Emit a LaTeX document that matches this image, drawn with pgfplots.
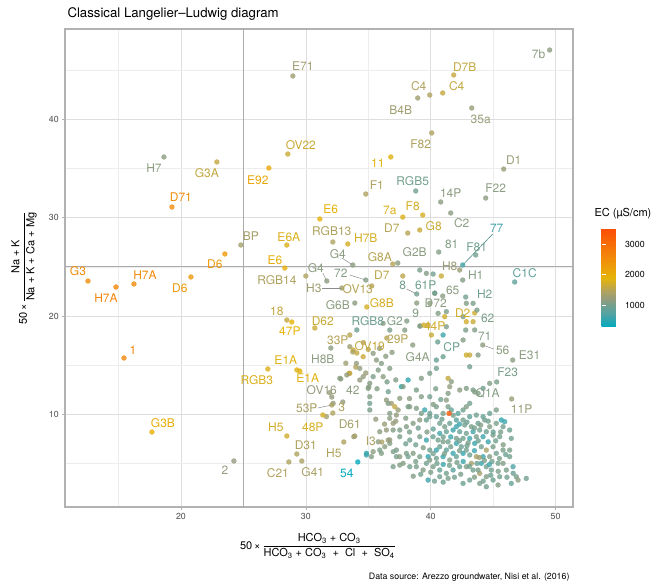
\documentclass[border=0pt]{standalone}
\usepackage{fontspec}
\setmainfont{TeX Gyre Heros}
\usepackage{pgfplots}
\pgfplotsset{compat=1.18}
\usepackage{pgfplotstable}
\usetikzlibrary{calc}

\pgfplotsset{colormap={ecmap}{rgb255(0pt)=(0,170,190); rgb255(42pt)=(80,163,165); rgb255(72pt)=(115,160,142); rgb255(92pt)=(148,156,125); rgb255(117pt)=(175,162,95); rgb255(142pt)=(208,172,45); rgb255(162pt)=(230,180,8); rgb255(232pt)=(243,135,10); rgb255(322pt)=(252,78,7)}}

% labelled samples: point (px,py), label position (lx,ly), EC
\pgfplotstableread{
px py lx ly ec lbl
28.96 44.42 29.76 45.43 1300 E71
28.56 36.48 29.60 37.40 1650 OV22
18.64 36.18 17.84 35.06 1150 H7
22.88 35.67 22.08 34.55 1600 G3A
27.04 35.06 26.16 33.84 2100 E92
19.28 31.09 20.00 32.11 2500 D71
24.80 27.22 25.60 28.14 1350 BP
28.48 27.22 28.64 28.04 1800 E6A
23.52 26.31 22.72 25.29 2300 D6
28.32 24.88 27.52 25.70 2000 E6
31.12 29.87 32.00 30.89 1950 E6
12.56 23.56 11.76 24.58 2500 G3
14.80 22.95 14.00 21.83 2650 H7A
16.24 23.26 17.12 24.17 2550 H7A
20.80 23.97 19.92 22.85 2300 D6
30.00 24.07 27.68 23.66 1450 RGB14
31.68 23.56 30.80 24.88 1150 G4
33.76 25.19 32.56 26.31 1150 G4
34.80 23.66 32.80 24.37 1100 72
32.88 22.85 30.64 22.85 1300 H3
35.28 23.05 34.16 22.75 1500 OV13
37.76 24.07 36.08 24.17 1550 D7
33.92 21.32 32.56 21.12 1150 G6B
34.88 20.92 36.08 21.32 1750 G8B
28.48 19.59 27.68 20.51 1600 18
28.88 19.39 28.72 18.47 1900 47P
30.72 18.78 31.36 19.49 1650 D62
34.08 18.58 34.96 19.49 950 RGB8
38.08 19.49 37.12 19.49 1100 G2
39.12 18.98 38.80 20.31 1100 9
39.44 19.08 40.32 18.98 1700 44P
38.88 21.32 40.40 21.32 1150 D72
38.88 22.24 37.76 23.15 1000 8
40.32 22.34 39.60 23.15 1000 61P
40.96 22.03 41.76 22.64 1150 65
42.56 23.66 43.60 24.17 1100 H1
46.72 23.46 47.52 24.37 850 C1C
42.80 21.93 44.32 22.24 1000 H2
43.52 20.31 42.56 20.31 1700 D2
43.70 20.60 44.56 19.80 1050 62
43.52 18.58 44.32 17.97 1100 71
44.16 17.05 45.76 16.54 1150 56
46.56 15.52 47.92 16.03 1150 E31
45.28 13.29 46.16 14.30 1050 F23
40.56 17.36 41.68 16.85 950 CP
38.56 17.05 38.96 15.83 1150 G4A
36.48 17.76 37.36 17.66 1500 29P
34.08 16.24 35.12 16.95 1600 OV19
33.52 18.07 32.56 17.56 1500 33P
32.00 16.74 31.36 15.63 1150 H8B
29.28 14.51 28.40 15.52 1850 E1A
29.52 14.40 30.16 13.69 1850 E1A
26.96 14.61 26.08 13.49 1800 RGB3
32.08 11.76 31.28 12.47 1200 OV16
35.04 12.78 33.76 12.47 1150 42
32.08 10.95 30.08 10.64 1400 53P
32.16 10.13 32.88 10.74 1450 3
28.48 7.79 27.60 8.71 1700 H5
31.36 9.93 30.56 8.71 1750 48P
33.92 7.79 33.52 9.01 1350 D61
29.28 5.96 30.00 6.88 1450 D31
33.04 7.18 32.24 6.06 1450 H5
28.64 5.15 27.76 4.03 1450 C21
29.68 5.25 30.56 4.13 1400 G41
24.24 5.25 23.52 4.33 1200 2
34.16 5.15 33.28 4.03 300 54
17.68 8.20 18.56 9.11 2000 G3B
15.44 15.73 16.16 16.54 2600 1
36.08 7.18 35.20 7.28 1400 I3
43.52 12.27 44.56 12.17 1100 Q1A
46.48 11.56 47.28 10.54 1250 11P
41.84 44.52 42.72 45.33 1600 D7B
39.92 42.48 39.04 43.40 1450 C4
40.96 42.69 42.08 43.40 1600 C4
38.96 42.18 37.60 40.96 1300 B4B
49.52 47.06 48.64 46.65 1150 7b
43.28 41.16 44.00 40.04 1250 35a
40.08 38.62 39.20 37.50 1450 F82
36.80 36.18 35.76 35.57 1850 11
45.84 34.95 46.64 35.87 1250 D1
34.80 32.41 35.68 33.33 1450 F1
38.80 32.72 38.56 33.73 1000 RGB5
40.80 31.60 41.60 32.51 1150 14P
44.40 32.00 45.20 33.02 1150 F22
37.76 30.07 36.72 30.78 1800 7a
39.36 30.27 38.56 31.19 1750 F8
41.60 30.48 42.48 29.46 1150 C2
38.16 28.44 36.88 28.95 1500 D7
39.12 28.75 40.24 29.16 1650 G8
42.56 25.19 45.28 28.95 650 77
43.60 26.21 43.68 27.02 1000 F81
40.64 26.51 41.68 27.32 1100 81
42.32 24.68 41.52 25.09 1250 H8
32.16 27.53 32.08 28.65 1450 RGB13
33.36 27.33 34.80 27.93 1750 H7B
36.96 25.29 35.92 26.00 1500 G8A
37.36 25.39 38.72 26.51 1150 G2B
}\lab

% unlabelled samples
\pgfplotstableread{
x y ec
39.12 24.68 1050
39.65 24.34 1100
40.19 24.27 1000
40.85 24.07 1650
40.32 22.30 1100
39.92 21.29 1150
40.59 20.27 1100
41.25 20.44 1050
41.12 19.93 1700
42.85 21.29 1100
43.39 21.29 1050
42.59 19.93 1100
42.85 19.42 1700
43.39 19.42 1650
42.80 18.57 1050
41.25 18.91 1100
40.99 18.07 600
40.05 18.07 1650
39.17 18.98 1100
39.79 19.08 1650
37.92 18.57 1100
36.72 18.57 1050
36.19 19.25 1150
33.52 16.88 1300
34.59 15.86 1650
35.39 16.20 1150
35.65 15.52 1150
36.05 15.18 1100
36.72 14.67 1100
33.79 16.54 1650
34.05 15.18 1200
34.32 14.67 1150
33.52 14.17 1500
34.59 13.83 1200
35.12 13.15 1100
35.39 13.83 1050
36.19 13.83 1150
40.45 15.52 900
40.45 14.67 1000
40.99 15.86 950
42.59 17.56 1100
42.85 16.03 1700
43.12 16.03 1650
43.79 16.03 1100
43.12 14.84 1000
37.65 12.81 500
38.19 13.49 550
39.25 13.66 1100
39.92 14.17 1050
38.85 12.47 1050
39.25 11.79 1100
39.92 11.79 1000
35.12 11.79 1100
35.12 11.11 1000
35.12 10.44 1050
36.45 11.45 1200
36.85 11.11 1300
37.12 10.77 1600
37.39 10.44 1250
36.72 10.09 1100
37.25 9.92 1200
38.32 10.77 1150
38.85 10.61 1100
39.52 10.44 600
39.92 10.09 950
40.45 10.77 1050
41.39 13.66 1600
41.65 13.32 1150
41.52 12.81 1200
41.39 12.13 1100
41.25 11.45 1150
41.39 10.77 1050
41.65 10.44 900
42.19 10.09 800
42.59 10.44 1000
42.85 10.77 1100
43.12 11.11 1000
42.32 12.47 1150
42.85 12.64 1100
43.39 12.47 1050
43.79 12.13 1100
44.19 12.64 1000
44.72 13.15 1100
45.25 10.44 1050
45.65 9.42 550
45.92 9.25 600
46.45 7.55 1000
44.72 10.09 950
44.19 9.76 900
43.65 9.92 1000
43.12 9.76 850
42.59 9.42 1000
42.05 9.42 800
40.99 10.09 1050
40.45 9.76 900
39.92 9.76 1000
39.65 9.42 950
39.12 9.42 1150
38.59 9.08 1100
38.05 8.74 1100
37.52 8.40 1050
36.99 8.40 1100
36.45 8.40 1200
35.92 8.23 1150
36.59 7.38 1300
36.72 7.04 1100
35.92 6.36 1050
36.32 6.70 1150
37.52 7.72 1050
38.32 7.38 1000
39.12 7.72 1050
39.65 7.38 600
40.19 7.72 950
40.72 8.06 650
41.25 8.23 900
41.79 8.40 600
42.32 8.23 900
42.85 8.06 1000
43.39 8.23 650
43.92 8.40 1000
44.45 8.23 950
44.99 7.89 1050
45.52 7.72 1000
39.92 6.36 1000
40.45 6.36 600
40.72 6.70 950
41.25 6.36 850
41.79 6.03 600
42.05 5.69 900
42.59 6.03 550
43.12 5.86 950
43.65 5.69 1400
44.19 5.69 600
44.72 5.69 1100
45.25 6.03 1000
45.79 6.36 1050
46.32 5.69 1000
46.59 4.67 700
46.05 4.33 1050
45.52 3.65 1000
44.99 3.31 950
44.45 3.65 1100
43.92 3.99 1350
43.39 4.33 1000
42.85 4.67 1100
42.32 4.67 950
41.79 4.33 800
41.25 3.99 1000
40.72 4.33 900
40.19 4.67 1050
39.65 5.01 1000
39.12 5.69 1050
38.59 6.03 1100
38.05 6.03 1050
37.52 5.69 1150
37.25 6.36 1050
37.79 5.01 1100
38.32 4.67 1000
38.85 4.67 1050
39.39 4.33 1100
40.72 3.65 1000
41.39 3.48 1050
42.59 2.97 950
43.12 3.31 1000
43.92 2.97 1050
44.45 2.63 1000
45.39 2.81 1100
46.45 2.97 900
46.85 3.65 1050
47.65 3.48 1000
46.99 3.31 1150
39.79 3.31 600
39.79 5.69 550
34.85 6.03 500
35.25 5.69 1100
36.72 9.59 1150
36.99 9.08 1250
36.59 11.11 1100
38.19 10.77 1050
37.52 11.62 1150
37.79 12.81 1100
39.25 10.09 1050
40.72 9.08 1000
41.12 8.74 1050
41.52 9.08 950
42.05 8.74 600
42.72 8.91 1000
43.25 8.74 1050
43.79 9.08 950
44.32 9.42 1000
44.72 8.74 1100
45.25 9.08 1050
45.79 8.74 1000
46.32 8.40 950
43.52 7.04 600
44.05 6.70 1000
44.45 6.36 1400
44.99 6.70 1050
44.05 5.01 600
44.45 4.67 1000
43.79 4.33 1050
43.25 5.01 1350
42.85 6.36 1000
42.45 6.70 950
42.05 7.04 600
41.39 7.21 1000
40.99 7.21 1050
40.59 7.38 1000
41.52 5.35 1100
40.99 5.69 600
40.45 5.52 1000
39.92 5.35 1050
45.39 5.01 1000
45.79 5.01 1100
46.32 6.36 1050
44.85 4.33 1000
44.19 7.72 600
43.65 7.72 1050
43.12 7.55 600
42.59 7.55 1000
42.05 7.55 1050
32.72 13.66 1150
33.47 14.17 1650
34.32 13.49 1200
34.99 12.64 1100
32.19 11.12 1200
31.65 9.76 1350
33.84 7.72 1300
34.85 5.86 600
35.39 6.20 1150
36.72 7.39 1200
36.05 6.03 1100
37.25 5.69 1050
37.52 4.84 1100
38.19 5.69 1000
36.99 4.67 1050
33.20 15.20 1300
34.00 14.80 1450
33.76 16.34 1400
33.28 14.00 1200
32.80 13.60 1150
31.90 12.20 1250
32.96 11.25 1200
40.20 8.50 900
40.90 9.50 1000
41.80 9.90 1050
42.30 9.00 600
42.90 9.20 950
43.50 8.60 1000
44.00 8.90 1100
44.60 9.30 1000
45.00 8.20 900
45.60 8.20 1050
41.00 7.70 1000
41.60 7.70 600
42.30 7.30 1000
43.00 7.10 1050
43.80 7.30 950
44.60 7.20 600
45.20 7.30 1000
45.80 6.90 1100
46.00 5.90 950
45.50 5.50 1050
44.90 5.20 1000
44.30 5.30 1050
43.70 5.00 950
43.10 4.70 1000
42.60 5.20 600
42.10 5.10 1050
41.50 4.80 1000
41.00 4.90 600
40.50 5.00 1000
40.00 4.10 1050
40.30 3.20 1000
41.00 3.10 950
41.90 3.60 1000
42.40 3.90 1050
43.50 3.60 1100
44.20 3.20 1000
44.80 3.80 950
45.40 4.20 1050
46.10 3.60 1000
46.60 4.00 950
44.70 4.90 600
43.90 5.60 1300
43.50 6.30 600
42.90 6.80 1000
42.30 6.30 1050
41.60 6.70 1000
41.10 6.00 1050
40.20 6.00 1000
39.40 6.60 1100
38.80 6.90 1000
38.30 8.20 1050
39.00 8.60 1000
39.70 8.20 1100
40.40 12.60 1050
40.80 11.50 1000
40.20 11.00 1100
38.30 11.60 1150
38.00 9.60 1100
37.20 9.30 1200
36.30 9.00 1250
35.60 9.50 1200
35.80 7.20 1150
37.00 6.20 1050
38.00 7.00 1000
38.80 5.20 1050
39.20 3.90 1000
38.60 3.70 1100
35.00 16.60 1550
35.90 16.70 1200
36.40 15.90 1150
34.80 14.20 1250
35.80 14.50 1100
36.50 13.30 1050
35.70 12.60 1100
36.60 12.30 1000
37.20 13.50 1100
36.90 16.30 1150
34.60 17.30 1500
41.47 10.09 3400
}\cloud

\begin{document}
\begin{tikzpicture}
\path[use as bounding box] (0,0) rectangle (657pt,585pt);
\begin{axis}[
  at={(65pt,78pt)}, anchor=south west,
  scale only axis, width=508pt, height=478pt,
  xmin=10.72, xmax=51.39, ymin=0.57, ymax=49.2,
  xtick={20,30,40,50}, ytick={10,20,30,40},
  minor xtick={15,25,35,45}, minor ytick={5,15,25,35,45},
  grid=both,
  major grid style={draw=black!13, line width=0.55pt},
  minor grid style={draw=black!7, line width=0.3pt},
  axis line style={draw=black!30, line width=1.1pt},
  tick align=outside, major tick length=2.75pt, minor tick length=0pt,
  tick style={draw=black!30, line width=0.55pt},
  xtick pos=left, ytick pos=left,
  ticklabel style={font=\fontsize{8.8}{10}\selectfont, text=black!70},
  /pgf/number format/assume math mode=true,
  colormap name=ecmap, point meta min=280, point meta max=3500,
  colorbar,
  colorbar style={
    at={($(parent axis.south west)+(528pt,180pt)$)}, anchor=south west,
    scale only axis, width=20pt, height=98pt,
    ytick={1000,2000,3000}, minor ytick={},
    yticklabel pos=right,
    yticklabel style={font=\fontsize{8.8}{10}\selectfont, text=black},
    /pgf/number format/assume math mode=true,
    /pgf/number format/1000 sep={},
    axis line style={draw=none},
    tick align=inside, major tick length=4pt,
    tick style={draw=white, line width=0.6pt},
    grid=none,
  },
]
\draw[black!33, line width=0.9pt] (axis cs:25,0.57) -- (axis cs:25,49.2);
\draw[black!33, line width=0.9pt] (axis cs:10.72,25) -- (axis cs:51.39,25);

\addplot[scatter, only marks, mark=*, mark size=2.5pt, point meta=explicit,
  scatter/use mapped color={draw=mapped color, fill=mapped color, opacity=0.8},
  mark options={line width=0.2pt}]
  table[x=x, y=y, meta=ec] {\cloud};
\addplot[scatter, only marks, mark=*, mark size=2.5pt, point meta=explicit,
  scatter/use mapped color={draw=mapped color, fill=mapped color, opacity=0.8},
  mark options={line width=0.2pt}]
  table[x=px, y=py, meta=ec] {\lab};

% leader lines of repelled labels
\draw[black!45, line width=0.5pt] (axis cs:31.36,24.37) -- (axis cs:31.68,23.56);
\draw[black!45, line width=0.5pt] (axis cs:32.88,25.90) -- (axis cs:33.76,25.19);
\draw[black!45, line width=0.5pt] (axis cs:33.52,24.17) -- (axis cs:34.80,23.66);
\draw[black!45, line width=0.5pt] (axis cs:31.28,22.85) -- (axis cs:32.88,22.85);
\draw[black!45, line width=0.5pt] (axis cs:38.08,22.75) -- (axis cs:38.88,22.24);
\draw[black!45, line width=0.5pt] (axis cs:30.96,10.64) -- (axis cs:32.08,10.95);
\draw[black!45, line width=0.5pt] (axis cs:45.04,16.64) -- (axis cs:44.16,17.05);
\draw[teal!60!gray, line width=0.5pt] (axis cs:44.96,28.34) -- (axis cs:42.56,25.19);

\addplot[only marks, mark=none, point meta=explicit symbolic,
  visualization depends on={(\thisrow{ec}-280)/3.22 \as \ecn},
  nodes near coords,
  every node near coord/.append style={anchor=center, inner sep=0pt,
    font=\fontsize{12}{13}\selectfont, color of colormap={\ecn}}]
  table[x=lx, y=ly, meta=lbl] {\lab};
\end{axis}

\node[anchor=west, font=\fontsize{13.2}{15}\selectfont] at (64pt,571pt) {Classical Langelier--Ludwig diagram};
\node[anchor=west, font=\fontsize{11}{13}\selectfont] at (591pt,371pt) {EC (µS/cm)};
\node[rotate=90, font=\fontsize{11}{13}\selectfont] at (24pt,317pt)
  {50\,×\,$\displaystyle\frac{\mbox{Na + K}}{\mbox{Na + K + Ca + Mg}}$};
\node[font=\fontsize{11}{13}\selectfont] at (318pt,39pt)
  {50\,×\,$\displaystyle\frac{\mbox{HCO\textsubscript{3} + CO\textsubscript{3}}}{\mbox{HCO\textsubscript{3} + CO\textsubscript{3} \ + \ Cl \ + \ SO\textsubscript{4}}}$};
\node[anchor=east, font=\fontsize{8.8}{10}\selectfont] at (573pt,8pt) {Data source: Arezzo groundwater, Nisi et al. (2016)};
\end{tikzpicture}
\end{document}
